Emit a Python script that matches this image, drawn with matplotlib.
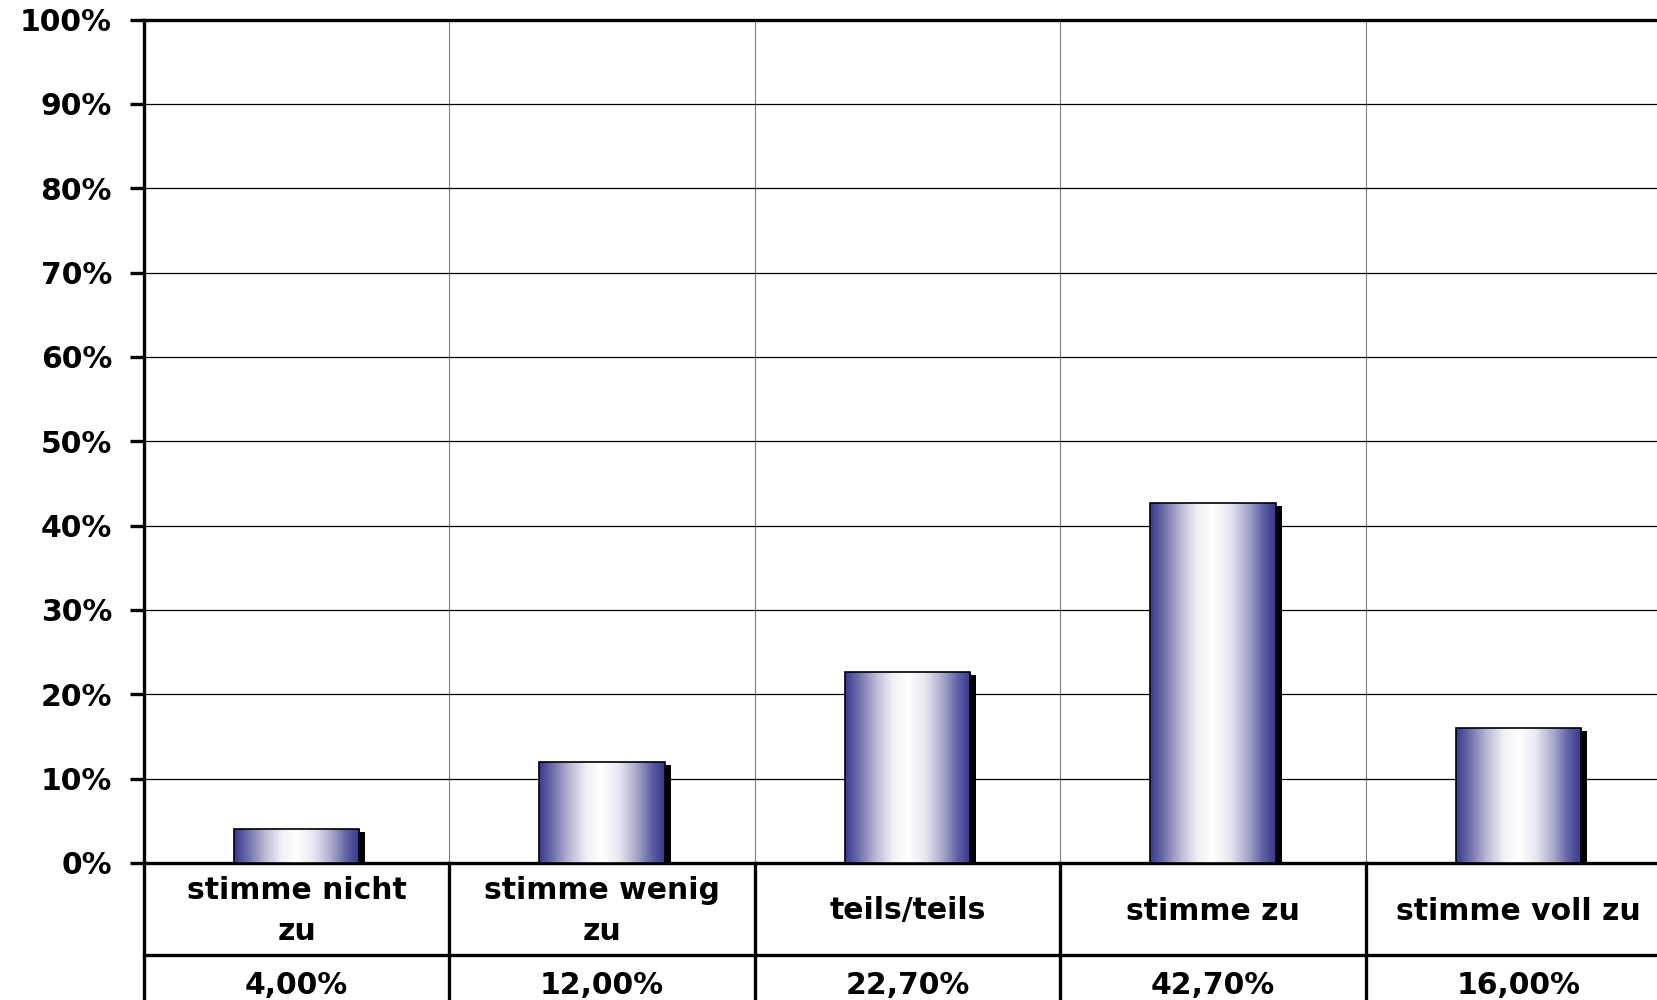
import numpy as np
import matplotlib
matplotlib.use('Agg')
import matplotlib.pyplot as plt
from matplotlib.colors import LinearSegmentedColormap
from matplotlib import transforms

categories = ["stimme nicht\nzu", "stimme wenig\nzu", "teils/teils", "stimme zu", "stimme voll zu"]
values = [4.0, 12.0, 22.7, 42.7, 16.0]
value_labels = ["4,00%", "12,00%", "22,70%", "42,70%", "16,00%"]
yticks = list(range(0, 101, 10))
ytick_labels = [f"{t}%" for t in yticks]

FONT = ["DejaVu Sans"]
FS = 21.5
W, H = 1657, 1000
fig = plt.figure(figsize=(W / 100, H / 100), dpi=100)
left, right = 144 / W, 1671 / W
bottom, top = 1 - 863 / H, 1 - 19.5 / H
ax = fig.add_axes([left, bottom, right - left, top - bottom])

n = len(categories)
x = np.arange(n)
bw = 0.41

# grid
ax.set_yticks(yticks)
ax.set_yticklabels(ytick_labels, fontsize=FS, fontweight='bold', family=FONT)
ax.yaxis.grid(True, color='black', linewidth=0.9, zorder=0)
for b in np.arange(-0.5, n + 0.5, 1.0)[1:-1]:
    ax.axvline(b, color='#808080', linewidth=0.8, zorder=0)
ax.set_xticks([])
ax.tick_params(axis='y', length=10, width=2.4, pad=13, color='black')
for s in ['left', 'top', 'bottom']:
    ax.spines[s].set_linewidth(2.4)
ax.spines['right'].set_visible(False)

# shadows
shadow_tr = ax.transData + transforms.ScaledTranslation(6 / 100, -3 / 100, fig.dpi_scale_trans)
ax.bar(x, values, width=bw, color='black', transform=shadow_tr, zorder=2)

# bars with gradient
cmap = LinearSegmentedColormap.from_list(
    'cyl', [(0.0, '#3a3a92'), (0.1, '#6a6aa8'), (0.25, '#bcbcd6'), (0.38, '#f0f0f6'),
            (0.5, '#ffffff'), (0.64, '#e6e6f0'), (0.78, '#a6a6c8'), (0.9, '#5e5ea2'), (1.0, '#38388f')])
grad = np.linspace(0, 1, 256).reshape(1, -1)
bars = ax.bar(x, values, width=bw, facecolor='none', edgecolor='black', linewidth=1.2, zorder=4)
for rect in bars:
    x0, y0 = rect.get_x(), rect.get_y()
    w, h = rect.get_width(), rect.get_height()
    im = ax.imshow(grad, extent=(x0, x0 + w, y0, y0 + h), aspect='auto', cmap=cmap,
                   interpolation='bicubic', zorder=3)
    im.set_clip_path(rect)

ax.set_xlim(-0.5, n - 0.5)
ax.set_ylim(0, 100)

# data table below axes
blend = transforms.blended_transform_factory(ax.transData, fig.transFigure)
row1 = 1 - 955 / H
for b in np.arange(-0.5, n + 0.5, 1.0):
    ax.plot([b, b], [bottom, -0.05], transform=blend, color='black', linewidth=2.4, clip_on=False)
ax.plot([-0.5, n - 0.5], [row1, row1], transform=blend, color='black', linewidth=2.4, clip_on=False)

for i, (c, v) in enumerate(zip(categories, value_labels)):
    ax.text(i, 1 - 911 / H, c, transform=blend, ha='center', va='center', fontsize=FS,
            fontweight='bold', family=FONT, linespacing=1.55)
    ax.text(i, 1 - 985 / H, v, transform=blend, ha='center', va='center', fontsize=FS,
            fontweight='bold', family=FONT)

fig.savefig('out.png', dpi=100)
